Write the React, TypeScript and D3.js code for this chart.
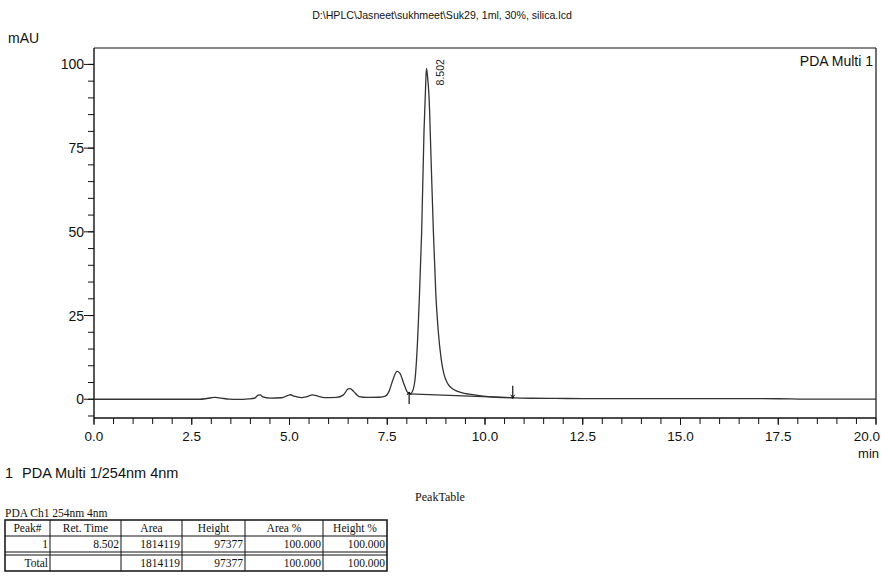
import React from "react";
import * as d3 from "d3";

// Chromatogram trace: retention time (min) and detector response (mAU)
const retentionTimes = [
  0, 2.7, 2.85, 3.0, 3.1, 3.25, 3.45, 3.7, 3.95, 4.1, 4.2, 4.25, 4.32, 4.5, 4.8,
  4.95, 5.02, 5.12, 5.3, 5.45, 5.58, 5.7, 5.9, 6.2, 6.38, 6.5, 6.55, 6.65, 6.78,
  7.0, 7.3, 7.45, 7.55, 7.65, 7.75, 7.82, 7.92, 8.0, 8.06, 8.12, 8.2, 8.26, 8.32,
  8.38, 8.44, 8.48, 8.502, 8.53, 8.57, 8.62, 8.68, 8.74, 8.8, 8.88, 8.95, 9.05,
  9.2, 9.4, 9.6, 9.9, 10.3, 10.7, 11.2, 11.8, 12.5, 14, 16, 17.5, 18.2, 20,
];
const responses = [
  0, 0, 0.15, 0.45, 0.55, 0.35, 0.05, -0.05, 0.1, 0.3, 1.2, 1.3, 0.7, 0.35, 0.45,
  1.1, 1.35, 0.9, 0.5, 0.8, 1.3, 1.0, 0.5, 0.55, 1.3, 3.1, 3.2, 2.2, 0.8,
  0.55, 0.6, 0.9, 2.5, 6.0, 8.3, 7.8, 4.8, 2.4, 1.6, 1.9, 5, 14, 30,
  50, 80, 93, 98.79, 96.5, 90, 72, 50, 32, 21, 12, 7.5, 4.6,
  2.9, 2.0, 1.5, 1.0, 0.6, 0.45, 0.3, 0.25, 0.2, 0.2, 0.2, 0.15, 0.05, 0.05,
];

// Integration baseline of the detected peak
const baselineTimes = [8.06, 10.71];
const baselineValues = [1.6, 0.45];

const peakRetention = 8.502;
const peakApex = 98.79;
const peakLabel = "8.502";

const xTicksMajor = [0, 2.5, 5, 7.5, 10, 12.5, 15, 17.5, 20];
const yTicksMajor = [0, 25, 50, 75, 100];

// Peak table
const tableHeaders = ["Peak#", "Ret. Time", "Area", "Height", "Area %", "Height %"];
const peakRow = ["1", "8.502", "1814119", "97377", "100.000", "100.000"];
const totalRow = ["Total", "", "1814119", "97377", "100.000", "100.000"];

const titleText = "D:\\HPLC\\Jasneet\\sukhmeet\\Suk29, 1ml, 30%, silica.lcd";

const W = 881;
const H = 580;
const left = 94;
const right = 876;
const top = 48;
const bottom = 418;

const sans = "'Liberation Sans', Arial, sans-serif";
const serif = "'Liberation Serif', 'Times New Roman', serif";

export default function App() {
  const x = d3.scaleLinear().domain([0, 20]).range([left, right]);
  const y = d3.scaleLinear().domain([-5.6, 104.9]).range([bottom, top]);

  const pts = retentionTimes.map((t, i) => [t, responses[i]] as [number, number]);
  const line = d3
    .line<[number, number]>()
    .x((d) => x(d[0]))
    .y((d) => y(d[1]))
    .curve(d3.curveMonotoneX);

  const xMinor = d3.range(0, 20.001, 0.5);
  const yMinor = d3.range(-5, 104, 5);

  const bx0 = x(baselineTimes[0]);
  const by0 = y(baselineValues[0]);
  const bx1 = x(baselineTimes[1]);
  const by1 = y(baselineValues[1]);

  // table geometry
  const colEdges = [5, 50, 121, 182, 245, 323, 387];
  const tTop = 520;
  const rowH = 16;
  const r1 = tTop + rowH;
  const r2 = r1 + rowH;
  const r3 = r2 + 3;
  const r4 = r3 + rowH;

  const cellText = (row: string[], yBase: number, center: boolean) =>
    row.map((s, i) => {
      const xPos = center ? (colEdges[i] + colEdges[i + 1]) / 2 : colEdges[i + 1] - 2;
      return (
        <text
          key={i}
          x={xPos}
          y={yBase}
          textAnchor={center ? "middle" : "end"}
          fontFamily={serif}
          fontSize={11.5}
          fill="#111"
        >
          {s}
        </text>
      );
    });

  return (
    <svg
      width={W}
      height={H}
      style={{ position: "absolute", left: 0, top: 0, background: "#fff" }}
    >
      <rect x={0} y={0} width={W} height={H} fill="#fff" />
      <text x={442} y={19} textAnchor="middle" fontFamily={sans} fontSize={10.6} fill="#111">
        {titleText}
      </text>
      <text x={8} y={43} fontFamily={sans} fontSize={14} fill="#111">
        mAU
      </text>

      {/* frame */}
      <line x1={left} y1={top} x2={right} y2={top} stroke="#111" strokeWidth={1.2} />
      <line x1={right} y1={top} x2={right} y2={bottom} stroke="#111" strokeWidth={1.2} />
      <line x1={left} y1={top} x2={left} y2={bottom} stroke="#111" strokeWidth={1.4} />
      <line x1={left} y1={bottom} x2={right} y2={bottom} stroke="#111" strokeWidth={1.4} />

      {/* y ticks */}
      {yMinor.map((v) => (
        <line key={"ym" + v} x1={left - 6} x2={left} y1={y(v)} y2={y(v)} stroke="#111" />
      ))}
      {yTicksMajor.map((v) => (
        <g key={"yM" + v}>
          <line x1={left - 10} x2={left} y1={y(v)} y2={y(v)} stroke="#111" />
          <text
            x={left - 10}
            y={y(v) + 5}
            textAnchor="end"
            fontFamily={sans}
            fontSize={14}
            fill="#111"
          >
            {v}
          </text>
        </g>
      ))}

      {/* x ticks */}
      {xMinor.map((v) => (
        <line key={"xm" + v} x1={x(v)} x2={x(v)} y1={bottom} y2={bottom + 6} stroke="#111" />
      ))}
      {xTicksMajor.map((v, i) => (
        <g key={"xM" + v}>
          <line x1={x(v)} x2={x(v)} y1={bottom} y2={bottom + 7} stroke="#111" />
          <text
            x={i === xTicksMajor.length - 1 ? x(v) + 4 : x(v)}
            y={bottom + 23}
            textAnchor={i === xTicksMajor.length - 1 ? "end" : "middle"}
            fontFamily={sans}
            fontSize={13.5}
            fill="#111"
          >
            {v.toFixed(1)}
          </text>
        </g>
      ))}
      <text x={879} y={458} textAnchor="end" fontFamily={sans} fontSize={13} fill="#111">
        min
      </text>

      <text x={873} y={66} textAnchor="end" fontFamily={sans} fontSize={14} fill="#111">
        PDA Multi 1
      </text>

      {/* trace */}
      <path d={line(pts) || ""} fill="none" stroke="#333" strokeWidth={1.3} />

      {/* integration baseline and markers */}
      <line x1={bx0} y1={by0} x2={bx1} y2={by1} stroke="#333" strokeWidth={1.1} />
      <line x1={bx0} y1={by0 - 2} x2={bx0} y2={by0 + 10} stroke="#111" strokeWidth={1.2} />
      <path d={`M${bx0 - 2},${by0 + 1}L${bx0},${by0 - 2}L${bx0 + 2},${by0 + 1}`} fill="none" stroke="#111" />
      <line x1={bx1} y1={by1 - 12} x2={bx1} y2={by1 + 1} stroke="#111" strokeWidth={1.2} />
      <path d={`M${bx1 - 2},${by1 - 3}L${bx1},${by1}L${bx1 + 2},${by1 - 3}`} fill="none" stroke="#111" />

      {/* peak label */}
      <text
        transform={`translate(${x(peakRetention) + 18},${y(peakApex) + 17}) rotate(-90)`}
        fontFamily={sans}
        fontSize={10.5}
        fill="#222"
      >
        {peakLabel}
      </text>

      <text x={5} y={478} fontFamily={sans} fontSize={14.5} fill="#111">
        1
      </text>
      <text x={22} y={478} fontFamily={sans} fontSize={14.5} fill="#111">
        PDA Multi 1/254nm 4nm
      </text>

      <text x={440} y={501} textAnchor="middle" fontFamily={serif} fontSize={12} fill="#111">
        PeakTable
      </text>
      <text x={5} y={517} fontFamily={serif} fontSize={11.5} fill="#111">
        PDA Ch1 254nm 4nm
      </text>

      {/* table grid */}
      <rect
        x={colEdges[0]}
        y={tTop}
        width={colEdges[6] - colEdges[0]}
        height={r4 - tTop}
        fill="none"
        stroke="#111"
        strokeWidth={1.5}
      />
      <line x1={colEdges[0]} x2={colEdges[6]} y1={r1} y2={r1} stroke="#111" />
      <line x1={colEdges[0]} x2={colEdges[6]} y1={r2} y2={r2} stroke="#111" />
      <line x1={colEdges[0]} x2={colEdges[6]} y1={r3} y2={r3} stroke="#111" />
      {colEdges.slice(1, 6).map((c) => (
        <line key={"c" + c} x1={c} x2={c} y1={tTop} y2={r4} stroke="#111" />
      ))}
      {cellText(tableHeaders, r1 - 4, true)}
      {cellText(peakRow, r2 - 4, false)}
      {cellText(totalRow, r4 - 4, false)}
    </svg>
  );
}
